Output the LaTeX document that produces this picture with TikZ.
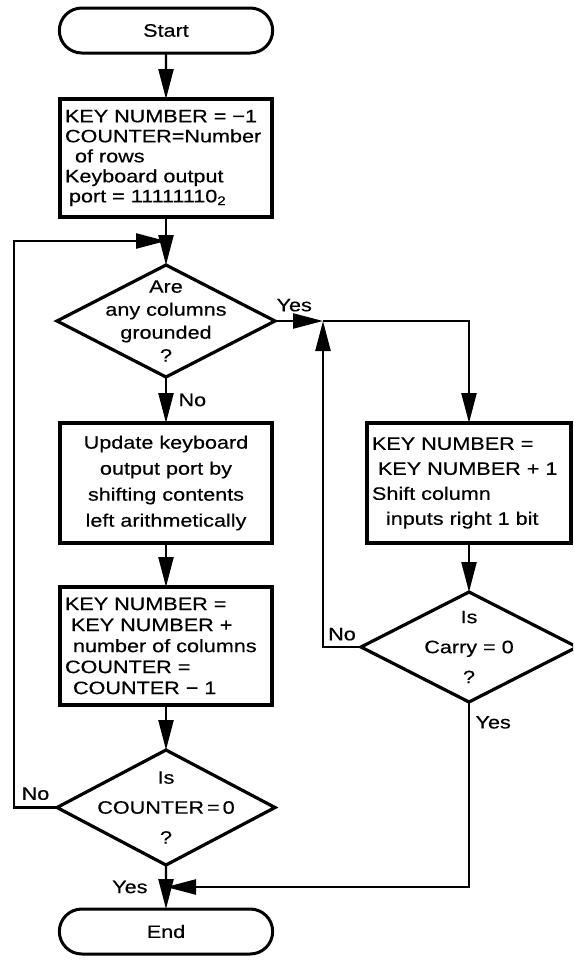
\documentclass[tikz,border=0pt]{standalone}
\usepackage{fontspec}
\setmainfont{Liberation Sans}[FakeStretch=1.2, FakeBold=0.4]
\usetikzlibrary{arrows.meta, positioning, shapes.geometric, shapes.misc, calc}

\begin{document}
\begin{tikzpicture}[
    x=1pt, y=1pt,
    font=\fontsize{18}{22}\selectfont,
    node distance=45pt and 95pt,
    term/.style={rounded rectangle, draw, line width=3pt, outer sep=0pt,
                 minimum width=220pt, minimum height=45pt},
    box/.style={rectangle, draw, line width=3.6pt, outer sep=0pt, inner xsep=5pt, inner ysep=4pt,
                text width=202pt, minimum height=118pt, align=left},
    decision/.style={diamond, draw, line width=3.2pt, outer sep=0pt, inner sep=0pt,
                     minimum width=218pt, minimum height=112pt},
    qtext/.style={align=center},
    arr/.style={-{Triangle[length=30pt, width=15pt]}, line width=2.4pt}
]
\useasboundingbox (0,0) rectangle (573,-961);
\clip (0,0) rectangle (573,-961);

% main column
\node[term] (start) at (166,-30.5) {Start};
\node[box, below=46pt of start, font=\fontsize{18}{20}\selectfont] (init)
    {KEY NUMBER = −1\\COUNTER=Number\\\hspace*{10pt}of rows\\Keyboard output\\\hspace*{4pt}port = 11111110\textsubscript{2}};
\node[decision, below=48pt of init,
      label={[qtext, font=\fontsize{18}{23}\selectfont]center:{Are\\any columns\\grounded\\?}}] (cols) {};
\node[box, below=46pt of cols, align=center, minimum height=120pt, font=\fontsize{18}{26}\selectfont] (update)
    {Update keyboard\\output port by\\shifting contents\\left arithmetically};
\node[box, below=44pt of update, font=\fontsize{18}{21}\selectfont] (addcols)
    {KEY NUMBER =\\\hspace*{6pt}KEY NUMBER +\\\hspace*{8pt}number of columns\\COUNTER =\\\hspace*{8pt}COUNTER − 1};
\node[decision, below=45pt of addcols, minimum height=115pt,
      label={[qtext, font=\fontsize{18}{30}\selectfont]center:{Is\\COUNTER\,=\,0\\?}}] (cnt) {};
\node[term, below=44pt of cnt] (end) {End};

% right column
\node[box, right=95pt of update, text width=194pt, minimum height=120pt, font=\fontsize{18}{25}\selectfont] (shift)
    {KEY NUMBER =\\\hspace*{6pt}KEY NUMBER + 1\\Shift column\\\hspace*{14pt}inputs right 1 bit};
\node[decision, below=49pt of shift, minimum width=216pt, minimum height=110pt,
      label={[qtext, font=\fontsize{18}{30}\selectfont]center:{Is\\Carry = 0\\?}}] (carry) {};

% junctions
\coordinate (jn0) at ($(init.south)!0.5!(cols.north)$);
\coordinate[right=48pt of cols.east] (jn1);
\coordinate (jn2) at ($(cnt.south)!0.5!(end.north)$);

\draw[arr] (start) -- (init);
\draw[arr] (init) -- (cols);
\draw[arr] (cols) -- node[right=8pt] {No} (update);
\draw[arr] (update) -- (addcols);
\draw[arr] (addcols) -- (cnt);
\draw[arr] (cnt) -- node[left=14pt] {Yes} (end);
\draw[arr] (cnt.west) -- node[above=3pt] {No} ++(-43,0) |- (jn0);
\draw[arr] (cols.east) -- node[pos=0.4, above=5pt] {Yes} (jn1);
\draw[arr] (jn1) -| (shift.north);
\draw[arr] (shift) -- (carry);
\draw[arr] (carry.west) -| node[pos=0.25, above=2pt] {No} (jn1);
\draw[arr] (carry.south) |- node[pos=0.055, right=2pt] {Yes} (jn2);
\end{tikzpicture}
\end{document}
